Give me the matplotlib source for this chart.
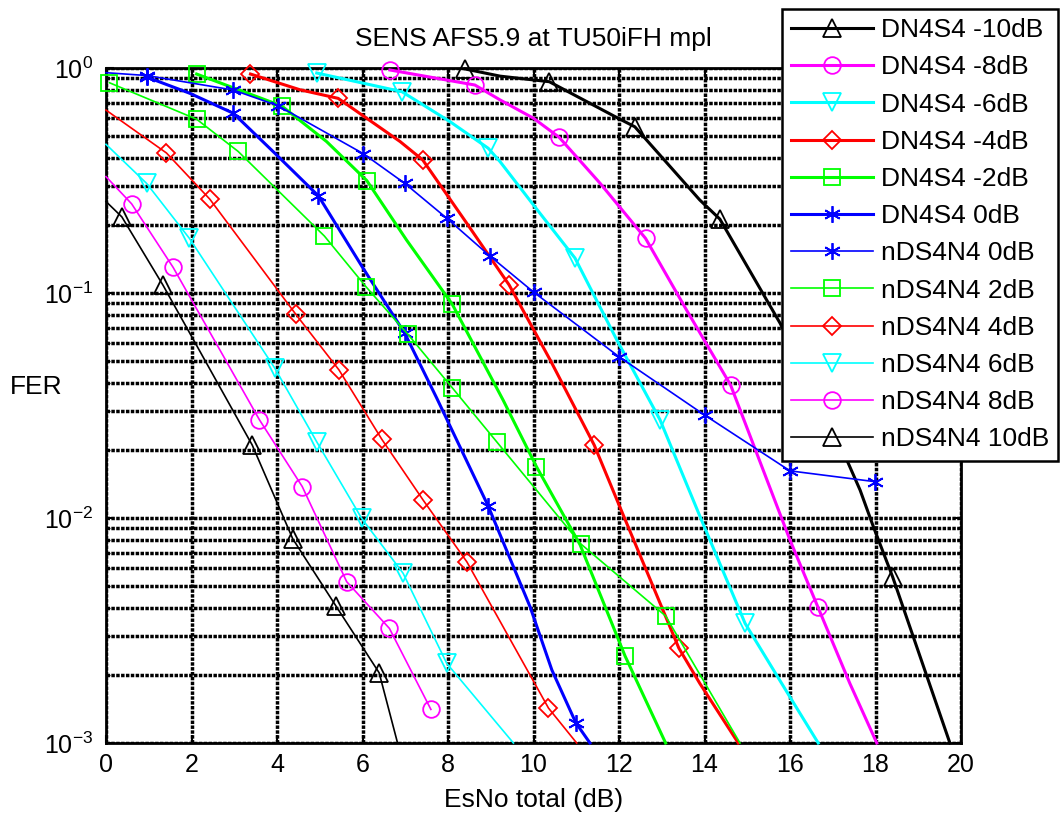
import matplotlib
matplotlib.use("Agg")
import matplotlib.pyplot as plt
from matplotlib.ticker import LogLocator, NullFormatter, FixedLocator

plt.rcParams['font.family'] = ['Liberation Sans', 'DejaVu Sans']
plt.rcParams['mathtext.default'] = 'regular'

title = "SENS AFS5.9 at TU50iFH mpl"
xlabel = "EsNo total (dB)"
ylabel = "FER"
xticks = [0, 2, 4, 6, 8, 10, 12, 14, 16, 18, 20]

# ---- DN4S4 series (thick, simulated curves; markers every 2 dB) ----
dn_m10_x = [8.40, 9.22, 10.0, 10.37, 11.98, 12.37, 13.89, 14.36, 15.77, 17.33, 17.64, 17.95, 18.40, 19.74]
dn_m10_y = [0.99, 0.92, 0.885, 0.869, 0.598, 0.548, 0.259, 0.213, 0.0733, 0.0181, 0.0133, 0.00915, 0.00548, 0.001]
dn_m10_mk = [0, 3, 5, 7, 12]

dn_m8_x = [6.64, 8.63, 9.22, 10.0, 10.60, 11.56, 12.62, 13.58, 14.61, 16.0, 16.65, 17.40, 18.03]
dn_m8_y = [0.98, 0.84, 0.721, 0.598, 0.492, 0.307, 0.175, 0.084, 0.039, 0.00798, 0.00403, 0.00184, 0.001]
dn_m8_mk = [0, 1, 4, 6, 8, 10]

dn_m6_x = [4.93, 6.92, 8.05, 8.94, 9.22, 10.0, 10.97, 11.95, 12.96, 13.90, 14.95, 16.0, 16.66]
dn_m6_y = [0.95, 0.785, 0.577, 0.44, 0.383, 0.246, 0.143, 0.0618, 0.0273, 0.0101, 0.0034, 0.0016, 0.001]
dn_m6_mk = [0, 1, 3, 6, 8, 10]

dn_m4_x = [3.38, 4.54, 5.43, 6.88, 7.41, 8.44, 9.43, 10.39, 11.42, 12.02, 13.40, 13.89, 14.79]
dn_m4_y = [0.94, 0.80, 0.733, 0.471, 0.390, 0.204, 0.1086, 0.0504, 0.0211, 0.0112, 0.00264, 0.00184, 0.001]
dn_m4_mk = [0, 2, 4, 6, 8, 10]

dn_m2_x = [2.12, 4.11, 5.16, 6.10, 7.03, 8.10, 9.29, 10.07, 11.09, 12.14, 13.09]
dn_m2_y = [0.94, 0.678, 0.471, 0.316, 0.172, 0.0891, 0.0334, 0.0169, 0.0076, 0.00244, 0.001]
dn_m2_mk = [0, 1, 3, 5, 7, 9]

dn_0_x = [0.95, 1.96, 2.98, 3.95, 4.97, 5.99, 6.99, 7.74, 8.94, 9.92, 10.43, 10.99, 11.32]
dn_0_y = [0.912, 0.772, 0.629, 0.418, 0.27, 0.131, 0.0662, 0.034, 0.0113, 0.00403, 0.00211, 0.00123, 0.001]
dn_0_mk = [0, 2, 4, 6, 8, 11]

# ---- nDS4N4 series (thin lines, marker at each point) ----
nd_0_x = [0, 0.95, 2.98, 4.03, 6.02, 6.99, 7.97, 8.98, 10.0, 12.0, 14.0, 16.0, 17.99]
nd_0_y = [0.953, 0.926, 0.798, 0.679, 0.416, 0.307, 0.215, 0.146, 0.101, 0.0521, 0.0287, 0.0162, 0.0145]
nd_0_mk = list(range(1, 13))

nd_2_x = [0.08, 2.12, 3.09, 5.11, 6.08, 7.06, 8.10, 9.14, 11.11, 13.09, 14.83]
nd_2_y = [0.86, 0.592, 0.426, 0.179, 0.1067, 0.0656, 0.0379, 0.0218, 0.00766, 0.00367, 0.001]
nd_2_mk = list(range(0, 10))

nd_4_x = [0, 1.415, 2.43, 4.44, 5.45, 6.45, 7.42, 8.44, 10.35, 11.01]
nd_4_y = [0.65, 0.419, 0.261, 0.0804, 0.0455, 0.0224, 0.0120, 0.00639, 0.00143, 0.001]
nd_4_mk = list(range(1, 9))

nd_6_x = [0, 0.95, 1.95, 3.95, 4.93, 5.98, 6.95, 7.97, 9.53]
nd_6_y = [0.458, 0.307, 0.175, 0.0463, 0.0218, 0.00997, 0.00568, 0.00226, 0.001]
nd_6_mk = list(range(1, 8))

nd_8_x = [0, 0.60, 1.57, 3.59, 4.59, 5.63, 6.63, 7.60]
nd_8_y = [0.329, 0.249, 0.130, 0.0273, 0.0138, 0.00521, 0.00323, 0.00141]
nd_8_mk = list(range(1, 8))

nd_10_x = [0, 0.37, 1.33, 3.42, 4.37, 5.38, 6.39, 6.82]
nd_10_y = [0.255, 0.218, 0.1086, 0.0211, 0.00807, 0.00406, 0.00205, 0.001]
nd_10_mk = list(range(1, 7))

labels = ["DN4S4 -10dB", "DN4S4 -8dB", "DN4S4 -6dB", "DN4S4 -4dB", "DN4S4 -2dB", "DN4S4 0dB",
          "nDS4N4 0dB", "nDS4N4 2dB", "nDS4N4 4dB", "nDS4N4 6dB", "nDS4N4 8dB", "nDS4N4 10dB"]

K, M, C, R, G, B = '#000000', '#ff00ff', '#00ffff', '#ff0000', '#00ff00', '#0000ff'
AST = (6, 2, 0)

series = [
    (dn_m10_x, dn_m10_y, dn_m10_mk, K, '^', True),
    (dn_m8_x, dn_m8_y, dn_m8_mk, M, 'o', True),
    (dn_m6_x, dn_m6_y, dn_m6_mk, C, 'v', True),
    (dn_m4_x, dn_m4_y, dn_m4_mk, R, 'D', True),
    (dn_m2_x, dn_m2_y, dn_m2_mk, G, 's', True),
    (dn_0_x, dn_0_y, dn_0_mk, B, AST, True),
    (nd_0_x, nd_0_y, nd_0_mk, B, AST, False),
    (nd_2_x, nd_2_y, nd_2_mk, G, 's', False),
    (nd_4_x, nd_4_y, nd_4_mk, R, 'D', False),
    (nd_6_x, nd_6_y, nd_6_mk, C, 'v', False),
    (nd_8_x, nd_8_y, nd_8_mk, M, 'o', False),
    (nd_10_x, nd_10_y, nd_10_mk, K, '^', False),
]

msize = {'^': 12.5, 'v': 12.5, 'o': 12, 'D': 9, 's': 11.5}

fig = plt.figure(figsize=(10.6, 8.16), dpi=100)
ax = fig.add_axes([106/1060, 1-743/816, (961-106)/1060, (743-68)/816])

handles = []
for (xs, ys, mk, col, marker, thick), lab in zip(series, labels):
    ms = msize.get(marker, 12) if not isinstance(marker, tuple) else 12
    h, = ax.plot(xs, ys, color=col, lw=2.2 if thick else 1.2,
                 marker=marker, markevery=mk, ms=ms, mfc='none', mec=col,
                 mew=1.3, label=lab, clip_on=False, zorder=3)
    handles.append(h)

ax.set_yscale('log')
ax.set_xlim(0, 20)
ax.set_ylim(1e-3, 1)
ax.xaxis.set_major_locator(FixedLocator(xticks))
ax.yaxis.set_major_locator(LogLocator(base=10, numticks=10))
ax.yaxis.set_minor_locator(LogLocator(base=10, subs=[2, 3, 4, 5, 6, 7, 8, 9], numticks=20))
ax.yaxis.set_minor_formatter(NullFormatter())

gstyle = dict(color='black', lw=2.5, linestyle=(0, (1, 0.4)))
ax.grid(True, which='major', axis='both', **gstyle)
ax.grid(True, which='minor', axis='y', **gstyle)
ax.set_axisbelow(True)

ax.tick_params(axis='both', which='both', direction='in', labelsize=18)
ax.tick_params(axis='both', which='major', length=6, width=1.5, top=True, right=True)
ax.tick_params(axis='y', which='minor', length=3, width=1, right=True)
ax.tick_params(axis='x', pad=7)
ax.tick_params(axis='y', pad=9)
for sp in ax.spines.values():
    sp.set_linewidth(2)

ax.set_ylabel(ylabel, rotation=0, fontsize=19, ha='center', va='center')
ax.yaxis.set_label_coords((36-106)/855, (743-386.7)/675)

fig.text(533.5/1060, 1-46/816, title, ha='center', va='baseline', fontsize=19)
fig.text(533.5/1060, 1-807/816, xlabel, ha='center', va='baseline', fontsize=19)

leg = ax.legend(handles=handles, loc='upper right',
                bbox_to_anchor=(1058/1060, 1-9/816), bbox_transform=fig.transFigure,
                fontsize=19, numpoints=1, handlelength=3.1, handletextpad=0.3,
                labelspacing=0.5, borderpad=0.35, borderaxespad=0,
                fancybox=False, framealpha=1, edgecolor='black')
leg.get_frame().set_linewidth(1.8)
leg.set_zorder(10)

fig.savefig('out.png', dpi=100)
